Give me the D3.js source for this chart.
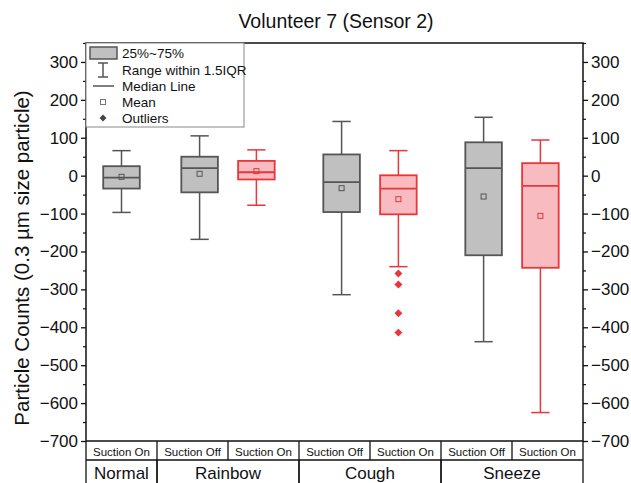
<!DOCTYPE html>
<html><head><meta charset="utf-8">
<script src="https://cdn.jsdelivr.net/npm/d3@7"></script>
<style>body{margin:0;background:#fff}svg{display:block;font-family:"Liberation Sans",Arial,sans-serif}</style>
</head><body><svg id="c" width="631" height="483"></svg>
<script>
const groups = ["Normal","Rainbow","Cough","Sneeze"];
const groupOf = ["Normal","Rainbow","Rainbow","Cough","Cough","Sneeze","Sneeze"];
const conditions = ["Suction On","Suction Off","Suction On","Suction Off","Suction On","Suction Off","Suction On"];
const whiskerHigh = [66, 105, 68, 143, 66, 154, 94];
const q3 = [25, 50, 39, 56, 1, 88, 33];
const median = [-5, 20, 9, -17, -34, 20, -27];
const q1 = [-34, -44, -10, -96, -102, -210, -243];
const whiskerLow = [-97, -168, -78, -314, -240, -438, -625];
const means = [-3, 5, 12, -33, -62, -55, -106];
const outliers = [[], [], [], [], [-258, -287, -363, -414], [], []];
const yTicks = [300,200,100,0,-100,-200,-300,-400,-500,-600,-700];
const yMinor = [350,250,150,50,-50,-150,-250,-350,-450,-550,-650];
const legendLabels = ["25%~75%","Range within 1.5IQR","Median Line","Mean","Outliers"];

const svg = d3.select("#c");
const L = 86, R = 583, T = 43, B = 441;
const y = d3.scaleLinear().domain([-700, 350]).range([B, T]);
const idx = d3.range(conditions.length);
const x = d3.scaleBand().domain(idx).range([L, R]).padding(0);
const bw = x.bandwidth();
const pairShift = i => {
  const g = groupOf[i];
  const members = idx.filter(j => groupOf[j] === g);
  if (members.length < 2) return 0;
  return members[0] === i ? 0.1 * bw : -0.1 * bw;
};
const cx = i => x(i) + bw / 2 + pairShift(i);
const boxW = 0.515 * bw;
const isOn = i => conditions[i] === "Suction On" && groupOf[i] !== "Normal";
const stroke = i => isOn(i) ? "#e8363c" : "#555555";
const fill = i => isOn(i) ? "#f8bcc0" : "#c0c0c0";

// title
svg.append("text").attr("x", 336).attr("y", 28).attr("text-anchor", "middle")
  .attr("font-size", 19.5).attr("fill", "#111").text("Volunteer 7 (Sensor 2)");

// axes
const left = d3.axisLeft(y).tickValues(yTicks).tickSize(5).tickPadding(3).tickFormat(d3.format("d"));
const right = d3.axisRight(y).tickValues(yTicks).tickSize(5).tickPadding(3).tickFormat(d3.format("d"));
const gl = svg.append("g").attr("transform", `translate(${L},0)`).call(left);
const gr = svg.append("g").attr("transform", `translate(${R},0)`).call(right);
[gl, gr].forEach(g => {
  g.select(".domain").remove();
  g.selectAll("text").attr("font-size", 17).attr("fill", "#111").attr("font-family", '"Liberation Sans",Arial,sans-serif');
  g.selectAll("line").attr("stroke", "#111").attr("stroke-width", 1.3);
});
svg.append("g").attr("transform", `translate(${L},0)`).call(d3.axisLeft(y).tickValues(yMinor).tickSize(3).tickFormat(""))
  .call(g => { g.select(".domain").remove(); g.selectAll("line").attr("stroke", "#111").attr("stroke-width", 1.2); });
svg.append("g").attr("transform", `translate(${R},0)`).call(d3.axisRight(y).tickValues(yMinor).tickSize(3).tickFormat(""))
  .call(g => { g.select(".domain").remove(); g.selectAll("line").attr("stroke", "#111").attr("stroke-width", 1.2); });

// frame
svg.append("rect").attr("x", L).attr("y", T).attr("width", R - L).attr("height", B - T)
  .attr("fill", "none").attr("stroke", "#111").attr("stroke-width", 1.5);

// y title
svg.append("text").attr("transform", `translate(29,258) rotate(-90)`)
  .attr("text-anchor", "middle").attr("font-size", 20.5).attr("fill", "#111")
  .text("Particle Counts (0.3 µm size particle)");

// boxes
const gb = svg.append("g");
idx.forEach(i => {
  const c = cx(i), s = stroke(i), capW = boxW / 2;
  const g = gb.append("g");
  g.append("line").attr("x1", c).attr("x2", c).attr("y1", y(whiskerHigh[i])).attr("y2", y(q3[i])).attr("stroke", s).attr("stroke-width", 1.5);
  g.append("line").attr("x1", c).attr("x2", c).attr("y1", y(q1[i])).attr("y2", y(whiskerLow[i])).attr("stroke", s).attr("stroke-width", 1.5);
  [whiskerHigh[i], whiskerLow[i]].forEach(v => g.append("line").attr("x1", c - capW / 2).attr("x2", c + capW / 2)
    .attr("y1", y(v)).attr("y2", y(v)).attr("stroke", s).attr("stroke-width", 1.5));
  g.append("rect").attr("x", c - boxW / 2).attr("y", y(q3[i])).attr("width", boxW).attr("height", y(q1[i]) - y(q3[i]))
    .attr("fill", fill(i)).attr("stroke", s).attr("stroke-width", 1.8);
  g.append("line").attr("x1", c - boxW / 2).attr("x2", c + boxW / 2).attr("y1", y(median[i])).attr("y2", y(median[i]))
    .attr("stroke", s).attr("stroke-width", 1.8);
  g.append("rect").attr("x", c - 2.5).attr("y", y(means[i]) - 2.5).attr("width", 5).attr("height", 5)
    .attr("fill", "none").attr("stroke", s).attr("stroke-width", 1);
  outliers[i].forEach(v => g.append("path").attr("d", d3.symbol(d3.symbolDiamond2, 40)())
    .attr("transform", `translate(${c},${y(v)})`).attr("fill", s));
});

// legend
const lg = svg.append("g");
lg.append("rect").attr("x", L).attr("y", T).attr("width", 158).attr("height", 84).attr("fill", "#fff").attr("stroke", "#888").attr("stroke-width", 1);
const ly = [53, 70, 86, 102, 118];
const lx = 103;
lg.append("rect").attr("x", 90).attr("y", ly[0] - 6).attr("width", 27).attr("height", 12).attr("fill", "#c0c0c0").attr("stroke", "#555").attr("stroke-width", 1.5);
lg.append("line").attr("x1", lx).attr("x2", lx).attr("y1", ly[1] - 7).attr("y2", ly[1] + 7).attr("stroke", "#555").attr("stroke-width", 1.5);
lg.append("line").attr("x1", lx - 5).attr("x2", lx + 5).attr("y1", ly[1] - 7).attr("y2", ly[1] - 7).attr("stroke", "#555").attr("stroke-width", 1.5);
lg.append("line").attr("x1", lx - 5).attr("x2", lx + 5).attr("y1", ly[1] + 7).attr("y2", ly[1] + 7).attr("stroke", "#555").attr("stroke-width", 1.5);
lg.append("line").attr("x1", 93).attr("x2", 114).attr("y1", ly[2]).attr("y2", ly[2]).attr("stroke", "#555").attr("stroke-width", 1.5);
lg.append("rect").attr("x", lx - 2.5).attr("y", ly[3] - 2.5).attr("width", 5).attr("height", 5).attr("fill", "none").attr("stroke", "#777").attr("stroke-width", 1);
lg.append("path").attr("d", d3.symbol(d3.symbolDiamond2, 30)()).attr("transform", `translate(${lx},${ly[4]})`).attr("fill", "#444");
legendLabels.forEach((t, k) => lg.append("text").attr("x", 122).attr("y", ly[k] + 5).attr("font-size", 13.5).attr("fill", "#111").text(t));

// category table
const tg = svg.append("g");
const r1 = B, r2 = 460, r3 = 490;
tg.append("line").attr("x1", L).attr("x2", R).attr("y1", r2).attr("y2", r2).attr("stroke", "#111").attr("stroke-width", 1.3);
d3.range(conditions.length + 1).forEach(k => {
  const xx = k < conditions.length ? x(k) : R;
  tg.append("line").attr("x1", xx).attr("x2", xx).attr("y1", r1).attr("y2", r2).attr("stroke", "#111").attr("stroke-width", 1.3);
});
idx.forEach(i => tg.append("text").attr("x", x(i) + bw / 2).attr("y", r2 - 4.5).attr("text-anchor", "middle")
  .attr("font-size", 11.5).attr("fill", "#111").text(conditions[i]));
groups.forEach(g => {
  const m = idx.filter(j => groupOf[j] === g);
  const x0 = x(m[0]), x1 = x(m[m.length - 1]) + bw;
  tg.append("line").attr("x1", x0).attr("x2", x0).attr("y1", r2).attr("y2", r3).attr("stroke", "#111").attr("stroke-width", 1.3);
  tg.append("line").attr("x1", x1).attr("x2", x1).attr("y1", r2).attr("y2", r3).attr("stroke", "#111").attr("stroke-width", 1.3);
  tg.append("text").attr("x", (x0 + x1) / 2).attr("y", 479).attr("text-anchor", "middle").attr("font-size", 17).attr("fill", "#111").text(g);
});
</script></body></html>
